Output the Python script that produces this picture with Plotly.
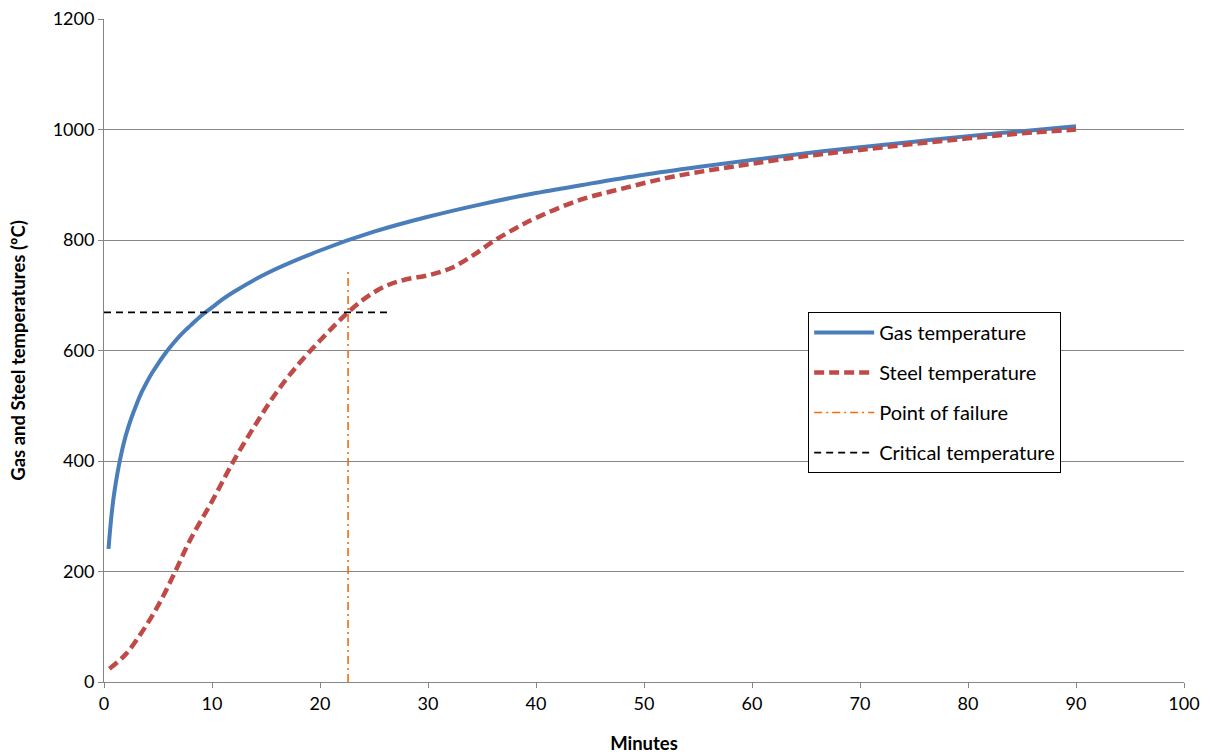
import plotly.graph_objects as go

# Gas temperature (fire curve)
gas_t = [0.42, 0.5, 0.75, 1, 1.5, 2, 2.5, 3, 3.5, 4, 4.5, 5, 5.5, 6, 6.5, 7, 7.5, 8, 9, 10, 11, 12, 15, 20, 25, 30, 35, 40, 45, 50, 55, 60, 65, 70, 75, 80, 85, 90]
gas_T = [241, 261, 312, 349, 404, 445, 476, 502, 525, 544, 561, 576, 590, 603, 615, 626, 636, 645, 663, 678, 693, 706, 739, 781, 815, 842, 865, 885, 902, 918, 932, 945, 957, 968, 978, 988, 997, 1006]

# Steel temperature
steel_t = [0.5, 2, 3.5, 5, 6.5, 8, 10, 12, 14, 16, 18, 20, 22, 24, 26, 28, 30, 32, 34, 36, 38, 40, 44, 48, 52, 56, 60, 65, 70, 75, 80, 85, 90]
steel_T = [24, 50, 90, 138, 196, 258, 327, 400, 465, 525, 575, 618, 658, 692, 716, 729, 736, 748, 770, 797, 820, 840, 872, 893, 912, 926, 938, 952, 963, 974, 984, 993, 1000]

# Point of failure (vertical) and critical temperature (horizontal)
failure_t = [22.6, 22.6]
failure_T = [0, 742]
critical_t = [0, 26.6]
critical_T = [669, 669]

FONT = "Lato"

fig = go.Figure()
fig.add_trace(go.Scatter(x=gas_t, y=gas_T, mode="lines", name="Gas temperature",
                         line=dict(color="#4A7EBB", width=4, shape="spline"), legendgroup="a"))
fig.add_trace(go.Scatter(x=steel_t, y=steel_T, mode="lines", name="Steel temperature",
                         line=dict(color="#BE4B48", width=4.5, dash="10px,5px", shape="spline"), legendgroup="b"))
fig.add_trace(go.Scatter(x=failure_t, y=failure_T, mode="lines", name="Point of failure",
                         line=dict(color="#F26B0F", width=1.6, dash="8px,4px,2px,4px"), legendgroup="c"))
fig.add_trace(go.Scatter(x=critical_t, y=critical_T, mode="lines", name="Critical temperature",
                         line=dict(color="#000000", width=1.8, dash="7px,5px"), legendgroup="d"))

fig.update_layout(
    width=1208, height=754,
    margin=dict(l=103.5, r=24, t=19, b=72),
    paper_bgcolor="white", plot_bgcolor="white",
    font=dict(family=FONT, size=18, color="#000000"),
    showlegend=True,
    legend=dict(x=0.652, y=0.558, xanchor="left", yanchor="top",
                bordercolor="#000000", borderwidth=1, bgcolor="white",
                font=dict(family=FONT, size=20), tracegroupgap=11,
                traceorder="grouped", itemwidth=60),
    xaxis=dict(range=[0, 100], dtick=10, tick0=0, showgrid=False, zeroline=False,
               showline=True, linecolor="#868686", linewidth=1, automargin=False,
               ticks="outside", ticklen=5, tickcolor="#868686",
               tickfont=dict(family=FONT, size=18),
               title=dict(text="<b>Minutes</b>", font=dict(family=FONT, size=18.5), standoff=24)),
    yaxis=dict(range=[0, 1200], dtick=200, tick0=0, showgrid=True, gridcolor="#868686", gridwidth=1,
               zeroline=False, showline=True, linecolor="#868686", linewidth=1, automargin=False,
               ticks="outside", ticklen=5, tickcolor="#868686",
               tickfont=dict(family=FONT, size=18),
               title=dict(text="<b>Gas and Steel temperatures (ºC)</b>", font=dict(family=FONT, size=18.5), standoff=22)),
)

fig.write_html("out.html")
